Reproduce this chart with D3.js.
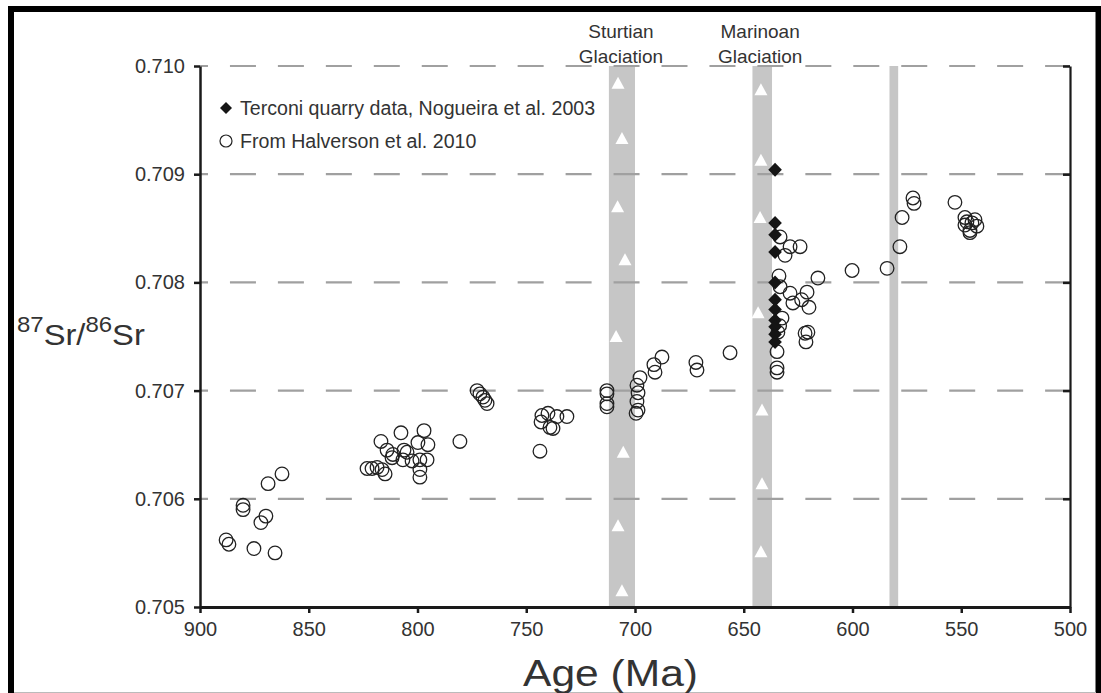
<!DOCTYPE html>
<html>
<head>
<meta charset="utf-8">
<script src="https://cdn.jsdelivr.net/npm/d3@7"></script>
<style>
  html, body { margin: 0; padding: 0; background: #fff; }
  svg text { font-family: "Liberation Sans", Arial, sans-serif; fill: #333; }
</style>
</head>
<body>
<div id="chart"></div>
<script>
;(function () {
    "use strict";

    // axis ticks
    var xTicks = [900, 850, 800, 750, 700, 650, 600, 550, 500];
    var yTicks = [0.705, 0.706, 0.707, 0.708, 0.709, 0.710];
    var gridValues = [0.706, 0.707, 0.708, 0.709, 0.710];

    // glaciation bands [older, younger] in Ma
    var bands = [[712, 700], [646, 637], [583, 579]];
    var bandLabels = [
        { age: 706, lines: ["Sturtian", "Glaciation"] },
        { age: 642, lines: ["Marinoan", "Glaciation"] }
    ];

    // white triangles in the bands [age, ratio]
    var triangles = [
        [707.8, 0.70984], [706.0, 0.70933], [708.0, 0.70870], [704.6, 0.70821],
        [708.7, 0.70750], [705.4, 0.70643], [707.8, 0.70575], [706.0, 0.70515],
        [642.1, 0.70978], [642.1, 0.70913], [642.5, 0.70860], [643.4, 0.70772],
        [641.6, 0.70682], [641.6, 0.70614], [642.1, 0.70551]
    ];

    // Terconi quarry data, Nogueira et al. 2003
    var terconiAge = 635.6;
    var terconiSr = [0.70904, 0.70855, 0.70844, 0.70828, 0.70800, 0.70784,
                     0.70775, 0.70765, 0.70759, 0.70752, 0.70745];

    // From Halverson et al. 2010 [age, ratio]
    var halverson = [
        [888.0, 0.70562], [886.7, 0.70558], [880.2, 0.70594], [880.2, 0.70590],
        [875.2, 0.70554], [872.0, 0.70578], [869.7, 0.70584], [868.7, 0.70614],
        [865.5, 0.70550], [862.3, 0.70623],
        [823.2, 0.70628], [820.9, 0.70628], [818.6, 0.70629], [816.3, 0.70627],
        [814.9, 0.70623], [816.8, 0.70653], [814.0, 0.70645], [811.3, 0.70641],
        [811.7, 0.70638], [807.6, 0.70661], [806.2, 0.70645], [806.7, 0.70636],
        [804.8, 0.70643], [802.5, 0.70635], [799.8, 0.70652], [797.0, 0.70663],
        [795.2, 0.70650], [798.9, 0.70636], [795.6, 0.70636], [798.9, 0.70627],
        [798.9, 0.70620], [780.5, 0.70653],
        [772.6, 0.70700], [771.3, 0.70697], [769.9, 0.70694], [769.0, 0.70691],
        [768.0, 0.70688],
        [742.8, 0.70677], [740.0, 0.70679], [735.9, 0.70676], [731.3, 0.70676],
        [743.2, 0.70671], [739.1, 0.70666], [737.7, 0.70665], [743.7, 0.70644],
        [712.9, 0.70700], [712.9, 0.70697], [712.9, 0.70688], [712.9, 0.70685],
        [697.7, 0.70712], [699.1, 0.70705], [698.6, 0.70698], [699.1, 0.70690],
        [698.6, 0.70682], [699.5, 0.70679], [691.3, 0.70724], [690.8, 0.70717],
        [687.6, 0.70731], [672.0, 0.70726], [671.5, 0.70719], [656.3, 0.70735],
        [633.3, 0.70842], [628.7, 0.70833], [624.1, 0.70833], [631.0, 0.70825],
        [633.8, 0.70806], [615.9, 0.70804], [600.2, 0.70811], [628.7, 0.70790],
        [620.9, 0.70791], [627.4, 0.70781], [623.4, 0.70784], [620.0, 0.70777],
        [633.3, 0.70796], [632.4, 0.70767], [634.3, 0.70754], [621.8, 0.70753],
        [620.5, 0.70754], [621.4, 0.70745], [634.7, 0.70736], [634.7, 0.70721],
        [634.7, 0.70717], [633.5, 0.70760],
        [584.1, 0.70813], [578.2, 0.70833], [577.2, 0.70860], [572.2, 0.70878],
        [571.7, 0.70873], [552.9, 0.70874], [548.3, 0.70860], [547.4, 0.70856],
        [545.1, 0.70855], [542.8, 0.70852], [548.3, 0.70853], [546.0, 0.70848],
        [546.0, 0.70846], [543.7, 0.70858]
    ];

    var width = 1101, height = 693;
    var svg, x, y, g, diamond;

    svg = d3.select("#chart").append("svg")
        .attr("width", width)
        .attr("height", height);

    x = d3.scaleLinear().domain([900, 500]).range([200, 1070]);
    y = d3.scaleLinear().domain([0.705, 0.710]).range([607, 66]);

    // outer frame
    svg.append("rect")
        .attr("x", 11).attr("y", 9)
        .attr("width", 1087.5).attr("height", 710)
        .attr("fill", "none")
        .attr("stroke", "#000")
        .attr("stroke-width", 6);
    svg.append("line")
        .attr("x1", 14).attr("x2", 1096)
        .attr("y1", 692.5).attr("y2", 692.5)
        .attr("stroke", "#bbb");

    // bands
    svg.append("g").selectAll("rect")
        .data(bands)
        .enter().append("rect")
        .attr("x", function (d) { return x(d[0]); })
        .attr("width", function (d) { return x(d[1]) - x(d[0]); })
        .attr("y", y(0.710))
        .attr("height", y(0.705) - y(0.710))
        .attr("fill", "#c6c6c6");

    // dashed gridlines
    svg.append("g").selectAll("line")
        .data(gridValues)
        .enter().append("line")
        .attr("x1", x(900)).attr("x2", x(500))
        .attr("y1", function (d) { return y(d); })
        .attr("y2", function (d) { return y(d); })
        .attr("stroke", "#a0a0a0")
        .attr("stroke-width", 2.2)
        .attr("stroke-dasharray", "26,21.95")
        .attr("stroke-dashoffset", 18);

    // triangles
    svg.append("g").selectAll("path")
        .data(triangles)
        .enter().append("path")
        .attr("transform", function (d) { return "translate(" + x(d[0]) + "," + y(d[1]) + ")"; })
        .attr("d", "M0,-6.5L6.5,5.5L-6.5,5.5Z")
        .attr("fill", "#fff");

    // axes
    g = svg.append("g")
        .attr("transform", "translate(" + x(900) + ",0)")
        .call(d3.axisLeft(y).tickValues(yTicks).tickSize(6).tickSizeOuter(0)
            .tickPadding(9).tickFormat(d3.format(".3f")));
    g.selectAll("text").attr("font-size", 20);
    g.selectAll("line").attr("stroke", "#1a1a1a").attr("stroke-width", 2.5);
    g.select(".domain").attr("stroke", "#1a1a1a").attr("stroke-width", 2.5);

    g = svg.append("g")
        .attr("transform", "translate(" + x(500) + ",0)")
        .call(d3.axisLeft(y).tickValues(gridValues).tickSize(7).tickSizeOuter(0)
            .tickFormat(""));
    g.selectAll("line").attr("stroke", "#1a1a1a").attr("stroke-width", 2.5);
    g.select(".domain").attr("stroke", "#1a1a1a").attr("stroke-width", 2.2);

    g = svg.append("g")
        .attr("transform", "translate(0," + y(0.705) + ")")
        .call(d3.axisBottom(x).tickValues(xTicks).tickSize(6).tickSizeOuter(0)
            .tickPadding(9).tickFormat(d3.format("d")));
    g.selectAll("text").attr("font-size", 20);
    g.selectAll("line").attr("stroke", "#1a1a1a").attr("stroke-width", 2.5);
    g.select(".domain").attr("stroke", "#1a1a1a").attr("stroke-width", 2.8);
    svg.selectAll(".tick text").attr("font-family", null).style("fill", "#333");

    // Halverson circles
    svg.append("g").selectAll("circle")
        .data(halverson)
        .enter().append("circle")
        .attr("cx", function (d) { return x(d[0]); })
        .attr("cy", function (d) { return y(d[1]); })
        .attr("r", 6.8)
        .attr("fill", "none")
        .attr("stroke", "#222")
        .attr("stroke-width", 1.3);

    // Terconi diamonds
    diamond = "M0,-7L6.8,0L0,7L-6.8,0Z";
    svg.append("g").selectAll("path")
        .data(terconiSr)
        .enter().append("path")
        .attr("transform", function (d) { return "translate(" + x(terconiAge) + "," + y(d) + ")"; })
        .attr("d", diamond)
        .attr("fill", "#151515");

    // band labels
    bandLabels.forEach(function (b) {
        var t = svg.append("text")
            .attr("text-anchor", "middle")
            .attr("font-size", 19);
        b.lines.forEach(function (line, i) {
            t.append("tspan")
                .attr("x", x(b.age) - 1)
                .attr("y", 38 + i * 24.5)
                .text(line);
        });
    });

    // legend
    svg.append("path")
        .attr("transform", "translate(226,108)")
        .attr("d", "M0,-6L6,0L0,6L-6,0Z")
        .attr("fill", "#151515");
    svg.append("text").attr("x", 240).attr("y", 115)
        .attr("font-size", 19.6).text("Terconi quarry data, Nogueira et al. 2003");
    svg.append("circle")
        .attr("cx", 226).attr("cy", 141).attr("r", 6)
        .attr("fill", "none").attr("stroke", "#222").attr("stroke-width", 1.2);
    svg.append("text").attr("x", 240).attr("y", 148)
        .attr("font-size", 19.6).text("From Halverson et al. 2010");

    // axis titles
    svg.append("text")
        .attr("x", 523).attr("y", 686)
        .attr("font-size", 36)
        .attr("textLength", 175)
        .attr("lengthAdjust", "spacingAndGlyphs")
        .text("Age (Ma)");

    // 87Sr/86Sr, stretched a little sideways like the original
    g = svg.append("text")
        .attr("transform", "translate(17,345) scale(1.09,1)")
        .attr("font-size", 30);
    g.append("tspan").attr("font-size", 22).attr("dy", -13).text("87");
    g.append("tspan").attr("dy", 13).text("Sr/");
    g.append("tspan").attr("font-size", 22).attr("dy", -13).text("86");
    g.append("tspan").attr("dy", 13).text("Sr");

}());
</script>
</body>
</html>
